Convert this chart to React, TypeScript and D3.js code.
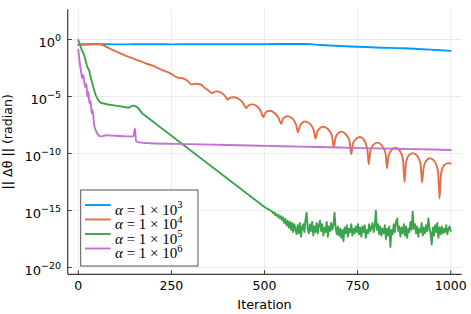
import React from "react";
import * as d3 from "d3";

const W = 471;
const H = 314;

const xTicks = [0, 250, 500, 750, 1000];
const yTickExps = [0, -5, -10, -15, -20];
const legendExps = ["3", "4", "5", "6"];
const seriesColors = ["#009AFA", "#E26F46", "#3DA44D", "#C271D2"];

// [iteration, log10 value]
const alpha1e3: [number, number][] = [
  [0, -0.45], [50, -0.42], [100, -0.43], [150, -0.42], [200, -0.41], [250, -0.43],
  [300, -0.42], [350, -0.41], [400, -0.42], [450, -0.42], [500, -0.41], [550, -0.4],
  [614, -0.4], [650, -0.48], [700, -0.57], [748, -0.63], [800, -0.7], [874, -0.77],
  [950, -0.9], [1000, -1.0],
];

const alpha1e4: [number, number][] = [
  [0, -0.45], [15, -0.42], [30, -0.4], [45, -0.38], [60, -0.42], [70, -0.55], [85, -0.8],
  [105, -1.1], [130, -1.45], [150, -1.7], [170, -1.95], [185, -2.15], [200, -2.3],
  [210, -2.45], [221, -2.62], [235, -2.8], [247, -2.97], [257, -3.18], [268, -3.35],
  [280, -3.4], [292, -3.6], [305, -3.95], [315, -3.88], [328, -3.95], [340, -4.25],
  [352, -4.55], [359, -4.72],
  [363, -4.62], [372, -4.55], [385, -4.7], [395, -5.0], [401, -5.3],
  [405, -5.15], [419, -5.06], [432, -5.25], [443, -5.6], [451, -6.04],
  [455, -5.85], [461, -5.72], [467, -5.69], [480, -5.85], [490, -6.3], [497, -6.8],
  [501, -6.5], [507, -6.3], [514, -6.25], [527, -6.45], [538, -6.9], [545, -7.4],
  [549, -7.0], [555, -6.8], [562, -6.72], [575, -6.95], [585, -7.5], [590, -8.15],
  [594, -7.7], [600, -7.35], [609, -7.2], [622, -7.4], [632, -7.95], [637, -8.7],
  [641, -8.15], [648, -7.8], [658, -7.65], [670, -7.85], [681, -8.45], [686, -9.45],
  [690, -8.7], [697, -8.25], [706, -8.08], [718, -8.3], [728, -8.9], [733, -10.05],
  [737, -9.2], [745, -8.75], [756, -8.55], [767, -8.8], [776, -9.6], [780, -10.95],
  [784, -9.8], [792, -9.25], [803, -9.05], [815, -9.3], [825, -10.0], [829, -11.3],
  [833, -10.2], [841, -9.7], [851, -9.5], [863, -9.75], [872, -10.6], [876, -12.5],
  [880, -10.8], [888, -10.15], [899, -9.97], [911, -10.25], [919, -10.9], [923, -12.55],
  [927, -11.3], [935, -10.6], [945, -10.42], [957, -10.7], [966, -11.6], [970, -13.95],
  [974, -11.8], [982, -11.05], [993, -10.85], [1000, -10.88],
];

const alpha1e5Head: [number, number][] = [
  [0, -0.05], [5, -0.5], [10, -1.0], [15, -1.3], [20, -1.9], [24, -2.4], [29, -2.7],
  [33, -3.3], [38, -3.9], [43, -4.5], [47, -4.9], [53, -5.3], [60, -5.55], [80, -5.7],
  [100, -5.8], [120, -5.9], [135, -6.0], [142, -5.85], [150, -5.8], [159, -5.95],
  [165, -6.2], [172, -6.5], [200, -7.2], [250, -8.45], [300, -9.7], [350, -10.95],
  [400, -12.2], [450, -13.45], [500, -14.7], [516, -15.0],
];
const alpha1e5TailStart = 520;
const alpha1e5TailStep = 3;
const alpha1e5Tail = [
  -15.1, -15.25, -15.15, -15.4, -15.3, -15.55, -15.4, -15.7, -15.5, -15.85,
  -15.6, -16.1, -15.75, -16.3, -15.9, -16.5, -16.0, -16.7, -16.1, -16.9,
  -16.2, -16.6, -17.1, -16.3, -17.0, -16.1, -17.3, -16.5, -16.2, -16.9,
  -15.8, -15.2, -16.6, -17.0, -16.2, -16.8, -16.0, -17.2, -16.4, -16.9,
  -16.1, -17.0, -16.3, -15.9, -16.8, -16.2, -17.2, -16.5, -16.9, -16.0,
  -17.3, -16.4, -16.8, -16.1, -16.7, -16.3, -15.2, -16.5, -17.1, -16.4,
  -17.2, -16.6, -17.4, -16.7, -17.7, -16.5, -17.0, -16.3, -17.3, -16.6,
  -16.9, -16.2, -17.2, -16.6, -17.0, -16.4, -16.9, -16.2, -17.1, -16.5,
  -17.3, -16.4, -16.9, -16.3, -17.4, -16.7, -17.0, -16.2, -16.8, -16.5,
  -16.1, -16.9, -16.4, -15.0, -16.7, -16.2, -17.1, -16.4, -17.2, -16.6,
  -17.0, -16.3, -17.5, -16.6, -17.2, -16.4, -18.2, -16.7, -17.1, -16.2,
  -16.9, -16.0, -15.7, -16.8, -16.4, -17.3, -16.5, -17.0, -16.2, -17.2,
  -16.4, -17.4, -16.6, -16.9, -16.0, -16.7, -15.1, -16.6, -16.2, -17.0,
  -16.4, -17.3, -16.6, -16.9, -16.1, -17.2, -16.5, -17.0, -16.3, -16.8,
  -15.7, -16.6, -17.0, -18.0, -16.5, -17.2, -16.3, -16.9, -16.1, -17.4,
  -16.5, -17.1, -16.4, -17.0, -16.6, -16.9, -16.3, -17.1, -16.6, -16.4,
  -16.8,
];

const alpha1e6: [number, number][] = [
  [0, -0.9], [2, -1.5], [4, -2.1], [7, -2.7], [10, -3.4], [13, -3.1], [16, -3.7],
  [19, -4.2], [22, -3.9], [24, -5.0], [27, -4.6], [30, -5.6], [33, -5.4], [36, -6.5],
  [39, -6.2], [42, -7.4], [46, -7.9], [52, -8.3], [60, -8.5], [75, -8.4], [100, -8.45],
  [130, -8.5], [148, -8.5], [152, -7.8], [155, -8.9], [160, -9.0], [170, -9.05],
  [180, -9.08], [193, -9.1], [300, -9.18], [400, -9.25], [500, -9.33], [596, -9.4],
  [700, -9.48], [800, -9.55], [900, -9.62], [1000, -9.69],
];

const plotLeft = 67.7;
const plotRight = 461.7;
const plotTop = 9.3;
const plotBottom = 274.3;

export default function App() {
  const x = d3.scaleLinear().domain([-28.5, 1029.5]).range([plotLeft, plotRight]);
  const y = d3
    .scaleLog()
    .domain([Math.pow(10, -20.6), Math.pow(10, 2.65)])
    .range([plotBottom, plotTop]);

  const greenTail: [number, number][] = alpha1e5Tail.map((v, i) => [
    alpha1e5TailStart + i * alpha1e5TailStep,
    v,
  ]);
  const series: [number, number][][] = [
    alpha1e3,
    alpha1e4,
    [...alpha1e5Head, ...greenTail],
    alpha1e6,
  ];

  const line = d3
    .line<[number, number]>()
    .x((d) => x(d[0]))
    .y((d) => y(Math.pow(10, d[1])))
    .curve(d3.curveMonotoneX);
  const linearLine = d3
    .line<[number, number]>()
    .x((d) => x(d[0]))
    .y((d) => y(Math.pow(10, d[1])));

  const axisColor = "#3a3a3a";
  const font = "DejaVu Sans, sans-serif";

  const legendX = 80.7;
  const legendY = 190;
  const legendRowY = [205, 219.5, 234, 248.5];

  return (
    <svg
      width={W}
      height={H}
      style={{ position: "absolute", left: 0, top: 0, background: "#fff" }}
    >
      <defs>
        <clipPath id="plotclip">
          <rect x={plotLeft} y={plotTop} width={plotRight - plotLeft} height={plotBottom - plotTop} />
        </clipPath>
      </defs>
      {xTicks.map((t) => (
        <line key={"gx" + t} x1={x(t)} x2={x(t)} y1={plotTop} y2={plotBottom} stroke="#000" strokeOpacity={0.1} strokeWidth={0.8} />
      ))}
      {yTickExps.map((e) => (
        <line key={"gy" + e} x1={plotLeft} x2={plotRight} y1={y(Math.pow(10, e))} y2={y(Math.pow(10, e))} stroke="#000" strokeOpacity={0.1} strokeWidth={0.8} />
      ))}
      <g clipPath="url(#plotclip)" fill="none" strokeLinejoin="round" strokeLinecap="round">
        {series.map((s, i) => (
          <path
            key={i}
            d={(i === 2 ? linearLine(s) : line(s)) || ""}
            stroke={seriesColors[i]}
            strokeWidth={1.9}
          />
        ))}
      </g>
      <line x1={plotLeft} x2={plotLeft} y1={plotTop} y2={plotBottom} stroke={axisColor} strokeWidth={1.2} />
      <line x1={plotLeft} x2={plotRight} y1={plotBottom} y2={plotBottom} stroke={axisColor} strokeWidth={1.2} />
      {xTicks.map((t) => (
        <g key={"xt" + t}>
          <line x1={x(t)} x2={x(t)} y1={plotBottom} y2={plotBottom - 4} stroke={axisColor} strokeWidth={1} />
          <text x={x(t)} y={289.7} textAnchor="middle" fontFamily={font} fontSize={12.5} fill="#000">
            {t}
          </text>
        </g>
      ))}
      {yTickExps.map((e) => {
        const yy = y(Math.pow(10, e));
        return (
          <g key={"yt" + e}>
            <line x1={plotLeft} x2={plotLeft + 4} y1={yy} y2={yy} stroke={axisColor} strokeWidth={1} />
            <text x={61} y={yy + 7.3} textAnchor="end" fontFamily={font} fontSize={13} fill="#000">
              10
              <tspan dy={-5.8} fontSize={9.5}>
                {e === 0 ? "0" : "\u2212" + Math.abs(e)}
              </tspan>
            </text>
          </g>
        );
      })}
      <text x={x(500)} y={309} textAnchor="middle" fontFamily={font} fontSize={12.8} fill="#000">
        Iteration
      </text>
      <text
        transform={`translate(11.5, ${(plotTop + plotBottom) / 2}) rotate(-90)`}
        textAnchor="middle"
        fontFamily={font}
        fontSize={12.6}
        fill="#000"
      >
        || Δθ || (radian)
      </text>
      <rect x={legendX} y={legendY} width={117.3} height={76} fill="#fff" stroke="#555" strokeWidth={1} />
      {legendExps.map((ex, i) => (
        <g key={"lg" + ex}>
          <line x1={85} x2={110.7} y1={legendRowY[i]} y2={legendRowY[i]} stroke={seriesColors[i]} strokeWidth={1.9} />
          <text x={115} y={legendRowY[i] + 9.8} fontFamily="Liberation Serif, serif" fontSize={15} fill="#000">
            <tspan fontStyle="italic">α</tspan>
            <tspan> = 1 × 10</tspan>
            <tspan dy={-6.5} fontSize={10.5}>
              {ex}
            </tspan>
          </text>
        </g>
      ))}
    </svg>
  );
}
